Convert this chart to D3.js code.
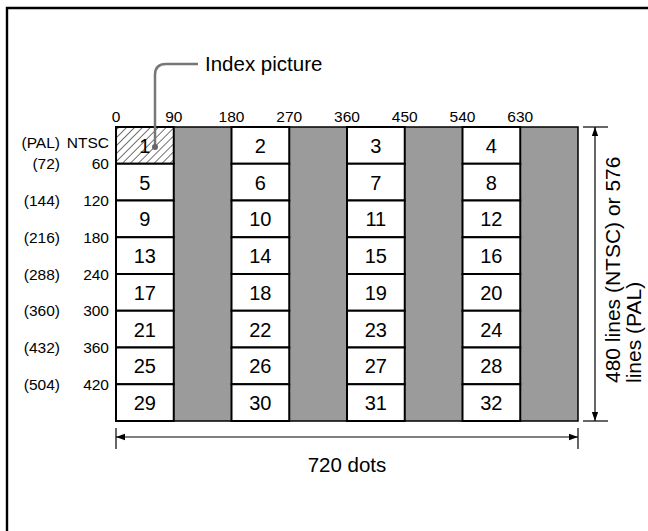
<!DOCTYPE html>
<html>
<head>
<meta charset="utf-8">
<script src="https://cdn.jsdelivr.net/npm/d3@7"></script>
<style>
  html, body { margin: 0; padding: 0; background: #fff; }
  svg { display: block; font-family: "Liberation Sans", Arial, sans-serif; }
</style>
</head>
<body>
<svg id="chart" width="648" height="531"></svg>
<script>
// ---- data ----
const dotTicks = [0, 90, 180, 270, 360, 450, 540, 630];
const ntscTicks = [60, 120, 180, 240, 300, 360, 420];
const palTicks = [72, 144, 216, 288, 360, 432, 504];
const columnStarts = [0, 180, 360, 540];
const grayStarts = [90, 270, 450, 630];
const rowStarts = [0, 60, 120, 180, 240, 300, 360, 420];
const cellNumbers = [
  [1, 2, 3, 4],
  [5, 6, 7, 8],
  [9, 10, 11, 12],
  [13, 14, 15, 16],
  [17, 18, 19, 20],
  [21, 22, 23, 24],
  [25, 26, 27, 28],
  [29, 30, 31, 32]
];
const cellWidth = 90, rowHeight = 60, totalDots = 720, totalLines = 480;

// ---- layout ----
const svg = d3.select("#chart");
const x = d3.scaleLinear().domain([0, totalDots]).range([116, 578]);
const y = d3.scaleLinear().domain([0, totalLines]).range([127, 421]);

// frame (only top & left visible)
svg.append("path").attr("d", "M7,531 V8 H648").attr("fill", "none")
  .attr("stroke", "#000").attr("stroke-width", 2.4);

// defs
const defs = svg.append("defs");
const pat = defs.append("pattern").attr("id", "hatch").attr("patternUnits", "userSpaceOnUse")
  .attr("width", 5.6).attr("height", 5.6).attr("patternTransform", "rotate(45)");
pat.append("line").attr("x1", 0).attr("y1", -1).attr("x2", 0).attr("y2", 7)
  .attr("stroke", "#000").attr("stroke-width", 1.1);
defs.append("marker").attr("id", "arrow").attr("viewBox", "0 0 10 10")
  .attr("refX", 10).attr("refY", 5).attr("markerWidth", 9).attr("markerHeight", 9)
  .attr("markerUnits", "userSpaceOnUse").attr("orient", "auto-start-reverse")
  .append("path").attr("d", "M0,1.5 L10,5 L0,8.5 Z").attr("fill", "#000");

// gray columns
svg.append("g").selectAll("rect").data(grayStarts).join("rect")
  .attr("x", d => x(d)).attr("y", y(0))
  .attr("width", d => x(d + cellWidth) - x(d)).attr("height", y(totalLines) - y(0))
  .attr("fill", "#9b9b9b");

// outer border
svg.append("rect").attr("x", x(0)).attr("y", y(0))
  .attr("width", x(totalDots) - x(0)).attr("height", y(totalLines) - y(0))
  .attr("fill", "none").attr("stroke", "#000").attr("stroke-width", 1.5);

// cells
const cells = [];
rowStarts.forEach((r, ri) => columnStarts.forEach((c, ci) => cells.push({ r, c, n: cellNumbers[ri][ci] })));
const cg = svg.append("g");
cg.selectAll("rect").data(cells).join("rect")
  .attr("x", d => x(d.c)).attr("y", d => y(d.r))
  .attr("width", d => x(d.c + cellWidth) - x(d.c)).attr("height", d => y(d.r + rowHeight) - y(d.r))
  .attr("fill", d => d.n === 1 ? "url(#hatch)" : "#fff")
  .attr("stroke", "#000").attr("stroke-width", 2);
cg.selectAll("text").data(cells).join("text")
  .attr("x", d => x(d.c + cellWidth / 2)).attr("y", d => y(d.r + rowHeight / 2) + 7.5)
  .attr("text-anchor", "middle").attr("font-size", 20).attr("fill", "#000")
  .text(d => d.n);

// top tick labels
svg.append("g").selectAll("text").data(dotTicks).join("text")
  .attr("x", d => x(d)).attr("y", 122).attr("text-anchor", "middle")
  .attr("font-size", 15.5).text(d => d);

// left labels
svg.append("text").attr("x", 60).attr("y", 148).attr("text-anchor", "end").attr("font-size", 15.5).text("(PAL)");
svg.append("text").attr("x", 109).attr("y", 148).attr("text-anchor", "end").attr("font-size", 15.5).text("NTSC");
svg.append("g").selectAll("text").data(ntscTicks).join("text")
  .attr("x", 109).attr("y", d => y(d) + 5.5).attr("text-anchor", "end")
  .attr("font-size", 15.5).text(d => d);
svg.append("g").selectAll("text").data(palTicks).join("text")
  .attr("x", 60).attr("y", (d, i) => y(ntscTicks[i]) + 5.5).attr("text-anchor", "end")
  .attr("font-size", 15.5).text(d => "(" + d + ")");

// index picture leader
svg.append("path").attr("d", "M155,147 V75 Q155,64 166,64 H198")
  .attr("fill", "none").attr("stroke", "#777").attr("stroke-width", 2.5);
svg.append("circle").attr("cx", 155).attr("cy", 147).attr("r", 3).attr("fill", "#666");
svg.append("text").attr("x", 205).attr("y", 71).attr("font-size", 20.5).text("Index picture");

// bottom dimension
svg.append("line").attr("x1", x(0)).attr("x2", x(0)).attr("y1", 428).attr("y2", 449).attr("stroke", "#000").attr("stroke-width", 1.2);
svg.append("line").attr("x1", x(totalDots)).attr("x2", x(totalDots)).attr("y1", 428).attr("y2", 449).attr("stroke", "#000").attr("stroke-width", 1.2);
svg.append("line").attr("x1", x(0)).attr("x2", x(totalDots)).attr("y1", 437).attr("y2", 437)
  .attr("stroke", "#000").attr("stroke-width", 1.2)
  .attr("marker-start", "url(#arrow)").attr("marker-end", "url(#arrow)");
svg.append("text").attr("x", x(totalDots / 2)).attr("y", 472).attr("text-anchor", "middle")
  .attr("font-size", 20.5).text("720 dots");

// right dimension
svg.append("line").attr("x1", 583).attr("x2", 608).attr("y1", y(0)).attr("y2", y(0)).attr("stroke", "#000").attr("stroke-width", 1.2);
svg.append("line").attr("x1", 583).attr("x2", 608).attr("y1", y(totalLines)).attr("y2", y(totalLines)).attr("stroke", "#000").attr("stroke-width", 1.2);
svg.append("line").attr("x1", 595).attr("x2", 595).attr("y1", y(0)).attr("y2", y(totalLines))
  .attr("stroke", "#000").attr("stroke-width", 1.2)
  .attr("marker-start", "url(#arrow)").attr("marker-end", "url(#arrow)");
const rt = svg.append("text").attr("transform", "translate(620,383) rotate(-90)").attr("font-size", 21);
rt.append("tspan").attr("x", 0).attr("y", 0).text("480 lines (NTSC) or 576");
rt.append("tspan").attr("x", 0).attr("y", 21).text("lines (PAL)");
</script>
</body>
</html>
